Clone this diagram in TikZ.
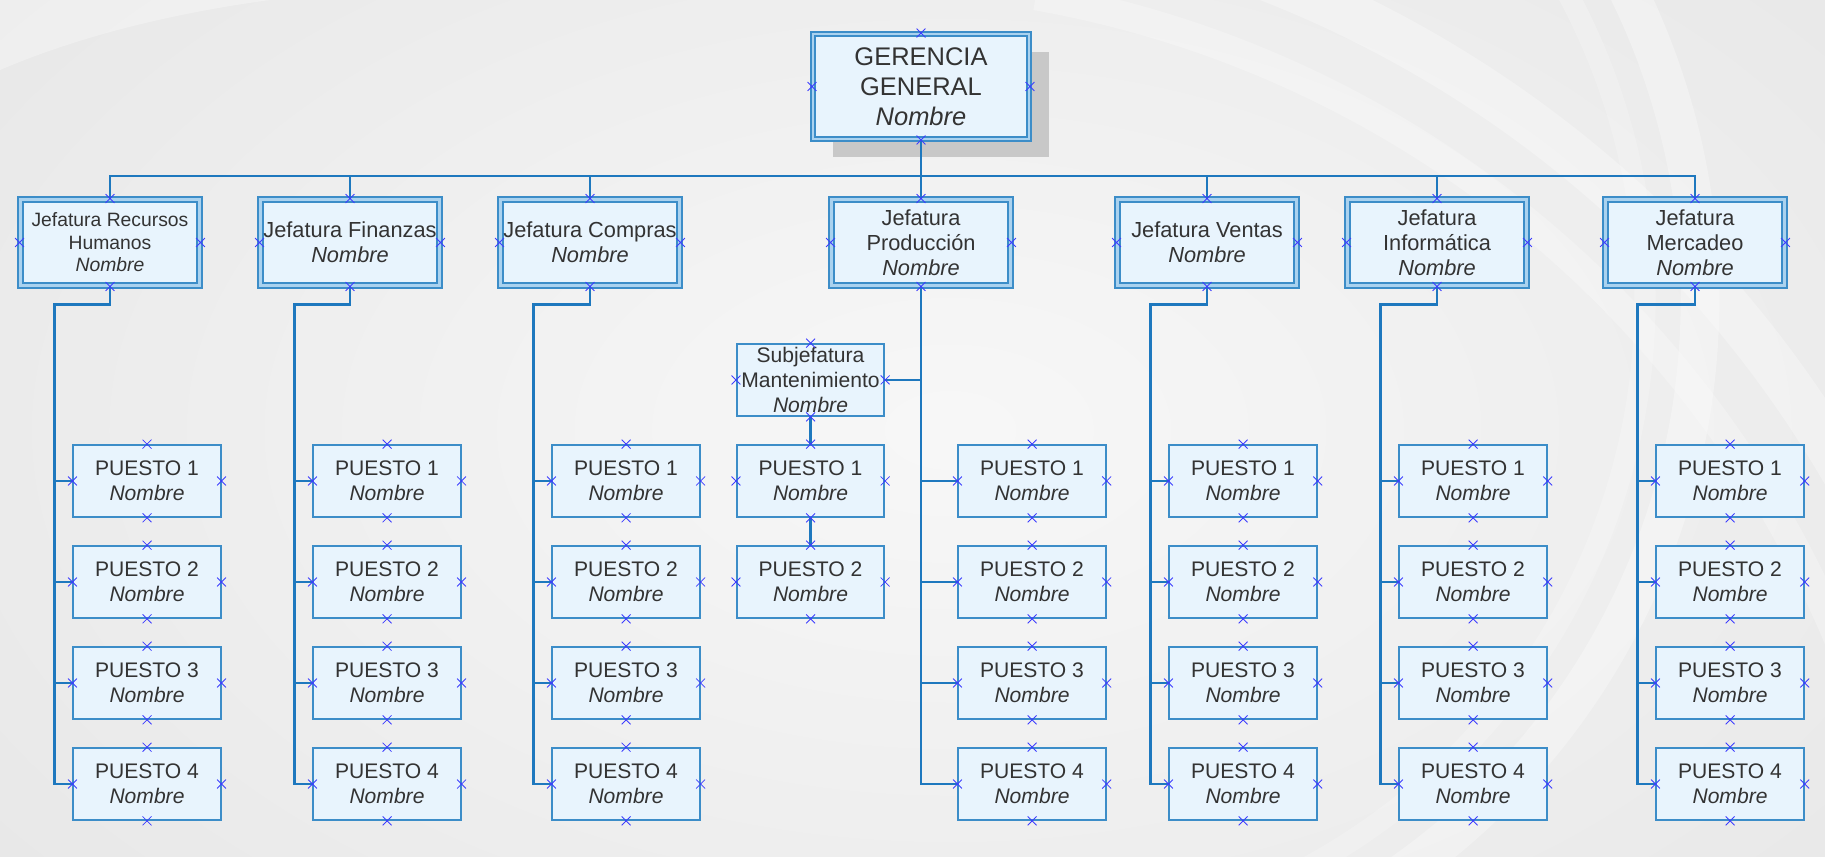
\documentclass[tikz,border=0pt]{standalone}
\usepackage{fontspec}
\setmainfont{Liberation Sans}
\usetikzlibrary{shapes.misc,shadows}

\definecolor{fondo}{RGB}{228,228,228}
\definecolor{cajaazul}{RGB}{232,244,253}
\definecolor{bordeazul}{RGB}{60,141,200}
\definecolor{dobleazul}{RGB}{170,210,239}
\definecolor{lineaazul}{RGB}{30,120,190}
\definecolor{cruzazul}{RGB}{60,60,255}
\definecolor{texto}{RGB}{51,51,51}
\definecolor{sombra}{RGB}{200,200,200}

\begin{document}
\begin{tikzpicture}[x=0.02cm, y=-0.02cm,
  caja/.style={rectangle, fill=cajaazul, text=texto, align=center, inner sep=0pt},
  gerente/.style={caja, draw=bordeazul, line width=1.1pt, double=dobleazul, double distance=1.4pt,
    minimum width=4.32cm, minimum height=2.1cm, font=\fontsize{14.5}{17}\selectfont,
    drop shadow={shadow xshift=0.4cm, shadow yshift=-0.36cm, fill=sombra, opacity=1}},
  jefe/.style={caja, draw=bordeazul, line width=1.1pt, double=dobleazul, double distance=1.4pt,
    minimum width=3.58cm, minimum height=1.72cm, font=\fontsize{12.4}{14.2}\selectfont},
  puesto/.style={caja, draw=bordeazul, line width=1pt,
    minimum width=2.95cm, minimum height=1.44cm, font=\fontsize{12}{14.2}\selectfont},
  enlace/.style={draw=lineaazul, line width=1.3pt},
  cruz/.style={cross out, draw=cruzazul, line width=0.5pt, minimum size=0.16cm, inner sep=0pt}]

 \useasboundingbox (0,0) rectangle (1825,857);

 %background
 \begin{scope}
  \clip (0,0) rectangle (1825,857);
  \fill[fondo] (0,0) rectangle (1825,857);
  \shade[inner color=white!97!black, outer color=fondo] (950,430) ellipse [x radius=1500, y radius=900];
  \fill[white, opacity=.3] (0,0) -- (270,0) .. controls (160,15) and (70,40) .. (0,70) -- cycle;
  \draw[white, opacity=.3, line width=26pt] ({850+1150*cos(-75)},{1050+1150*sin(-75)}) arc[start angle=-75, end angle=-20, radius=1150];
  \draw[white, opacity=.25, line width=16pt] ({850+1070*cos(-80)},{1050+1070*sin(-80)}) arc[start angle=-80, end angle=-20, radius=1070];
  \draw[white, opacity=.3, line width=22pt] ({1000+700*cos(-40)},{300+700*sin(-40)}) arc[start angle=-40, end angle=70, radius=700];
  \draw[white, opacity=.2, line width=12pt] ({1000+645*cos(-40)},{300+645*sin(-40)}) arc[start angle=-40, end angle=70, radius=645];
 \end{scope}

 %Gerencia
 \node[gerente] (gg) at (921,86.5) {GERENCIA\\GENERAL\\\textit{Nombre}};

 %Jefaturas
 \node[jefe, font=\fontsize{11}{12.8}\selectfont] (jrh) at (110,242.5) {Jefatura Recursos\\Humanos\\\textit{Nombre}};
 \node[jefe] (jfi) at (350,242.5) {Jefatura Finanzas\\\textit{Nombre}};
 \node[jefe] (jco) at (590,242.5) {Jefatura Compras\\\textit{Nombre}};
 \node[jefe] (jpr) at (921,242.5) {Jefatura\\Producción\\\textit{Nombre}};
 \node[jefe] (jve) at (1207,242.5) {Jefatura Ventas\\\textit{Nombre}};
 \node[jefe] (jin) at (1437,242.5) {Jefatura\\Informática\\\textit{Nombre}};
 \node[jefe] (jme) at (1695,242.5) {Jefatura\\Mercadeo\\\textit{Nombre}};

 %Subjefatura
 \node[puesto] (sjm) at (810.5,380) {Subjefatura\\Mantenimiento\\\textit{Nombre}};
 \node[puesto] (sm1) at (810.5,481) {PUESTO 1\\\textit{Nombre}};
 \node[puesto] (sm2) at (810.5,582) {PUESTO 2\\\textit{Nombre}};

 %Puestos
 \foreach \j/\x in {rh/147, fi/387, co/626, pr/1032, ve/1243, in/1473, me/1730}
  \foreach \i/\y in {1/481, 2/582, 3/683, 4/784}
   \node[puesto] (\j\i) at (\x,\y) {PUESTO \i\\\textit{Nombre}};

 %connectors
 \draw[enlace] (gg.south) -- ++(0,36) coordinate (bus);
 \foreach \j in {rh,fi,co,pr,ve,in,me}
  \draw[enlace] (bus) -| (j\j.north);

 \foreach \j in {rh,fi,co,ve,in,me} {
  \draw[enlace] (j\j.south) -- ++(0,18) -| ([shift={(-18,0)}]\j4.west) -- (\j4.west);
  \foreach \i in {1,2,3}
   \draw[enlace] ([shift={(-18,0)}]\j\i.west) -- (\j\i.west);
 }

 \draw[enlace] (jpr.south) |- (pr4.west);
 \foreach \i in {1,2,3}
  \draw[enlace] (jpr.south |- pr\i.west) -- (pr\i.west);
 \draw[enlace] (jpr.south |- sjm.east) -- (sjm.east);
 \draw[enlace] (sjm.south) -- (sm1.north);
 \draw[enlace] (sm1.south) -- (sm2.north);

 %connection points
 \foreach \n in {gg,jrh,jfi,jco,jpr,jve,jin,jme,sjm,sm1,sm2}
  \foreach \a in {north,south,east,west}
   \node[cruz] at (\n.\a) {};
 \foreach \j in {rh,fi,co,pr,ve,in,me}
  \foreach \i in {1,...,4}
   \foreach \a in {north,south,east,west}
    \node[cruz] at (\j\i.\a) {};

\end{tikzpicture}
\end{document}
